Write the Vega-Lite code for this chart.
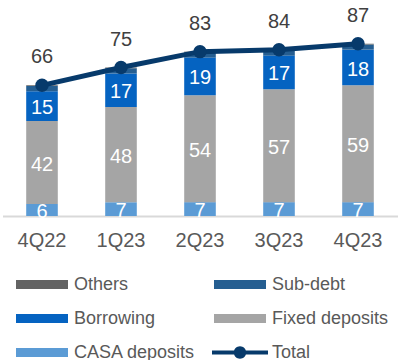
{
  "$schema": "https://vega.github.io/schema/vega-lite/v6.json",
  "width": 395,
  "height": 198,
  "autosize": {"type": "none"},
  "padding": {"left": 2.5, "top": 18, "right": 8.5, "bottom": 144},
  "config": {"view": {"stroke": null}, "font": "Liberation Sans"},
  "datasets": {
    "bars": [
      {"quarter": "4Q22", "series": "CASA deposits", "rank": 1, "value": 6},
      {"quarter": "4Q22", "series": "Fixed deposits", "rank": 2, "value": 42},
      {"quarter": "4Q22", "series": "Borrowing", "rank": 3, "value": 15},
      {"quarter": "4Q22", "series": "Sub-debt", "rank": 4, "value": 2.6},
      {"quarter": "4Q22", "series": "Others", "rank": 5, "value": 0.4},
      {"quarter": "1Q23", "series": "CASA deposits", "rank": 1, "value": 7},
      {"quarter": "1Q23", "series": "Fixed deposits", "rank": 2, "value": 48},
      {"quarter": "1Q23", "series": "Borrowing", "rank": 3, "value": 17},
      {"quarter": "1Q23", "series": "Sub-debt", "rank": 4, "value": 2.6},
      {"quarter": "1Q23", "series": "Others", "rank": 5, "value": 0.4},
      {"quarter": "2Q23", "series": "CASA deposits", "rank": 1, "value": 7},
      {"quarter": "2Q23", "series": "Fixed deposits", "rank": 2, "value": 54},
      {"quarter": "2Q23", "series": "Borrowing", "rank": 3, "value": 19},
      {"quarter": "2Q23", "series": "Sub-debt", "rank": 4, "value": 2.6},
      {"quarter": "2Q23", "series": "Others", "rank": 5, "value": 0.4},
      {"quarter": "3Q23", "series": "CASA deposits", "rank": 1, "value": 7},
      {"quarter": "3Q23", "series": "Fixed deposits", "rank": 2, "value": 57},
      {"quarter": "3Q23", "series": "Borrowing", "rank": 3, "value": 17},
      {"quarter": "3Q23", "series": "Sub-debt", "rank": 4, "value": 2.6},
      {"quarter": "3Q23", "series": "Others", "rank": 5, "value": 0.4},
      {"quarter": "4Q23", "series": "CASA deposits", "rank": 1, "value": 7},
      {"quarter": "4Q23", "series": "Fixed deposits", "rank": 2, "value": 59},
      {"quarter": "4Q23", "series": "Borrowing", "rank": 3, "value": 18},
      {"quarter": "4Q23", "series": "Sub-debt", "rank": 4, "value": 2.6},
      {"quarter": "4Q23", "series": "Others", "rank": 5, "value": 0.4}
    ],
    "totals": [
      {"quarter": "4Q22", "total": 66},
      {"quarter": "1Q23", "total": 75},
      {"quarter": "2Q23", "total": 83},
      {"quarter": "3Q23", "total": 84},
      {"quarter": "4Q23", "total": 87}
    ]
  },
  "encoding": {
    "x": {
      "field": "quarter",
      "type": "nominal",
      "sort": ["4Q22", "1Q23", "2Q23", "3Q23", "4Q23"],
      "scale": {"paddingInner": 0.6, "paddingOuter": 0.3},
      "axis": {
        "title": null,
        "labelFontSize": 20,
        "labelColor": "#595959",
        "labelAngle": 0,
        "ticks": false,
        "grid": false,
        "domainColor": "#d9d9d9",
        "domainWidth": 2,
        "labelPadding": 14
      }
    }
  },
  "layer": [
    {
      "data": {"name": "bars"},
      "transform": [
        {"stack": "value", "groupby": ["quarter"], "sort": [{"field": "rank", "order": "ascending"}], "as": ["v0", "v1"]}
      ],
      "mark": {"type": "bar"},
      "encoding": {
        "y": {"field": "v0", "type": "quantitative", "scale": {"domain": [0, 100]}, "axis": null},
        "y2": {"field": "v1"},
        "color": {
          "field": "series",
          "type": "nominal",
          "scale": {
            "domain": ["Others", "Sub-debt", "Borrowing", "Fixed deposits", "CASA deposits", "Total"],
            "range": ["#636363", "#255e91", "#0563c1", "#a5a5a5", "#5b9bd5", "#073a6b"]
          },
          "legend": {
            "title": null,
            "orient": "none",
            "legendX": 29.5,
            "legendY": 256.5,
            "columns": 2,
            "direction": "horizontal",
            "padding": 0,
            "symbolType": {"expr": "datum.value === 'Total' ? 'M-2.8,-0.2H2.8V0.2H-2.8Z M-0.62,0A0.62,0.62,0,1,1,0.62,0A0.62,0.62,0,1,1,-0.62,0Z' : 'M-2.6,-0.45H2.6V0.45H-2.6Z'"},
            "symbolSize": 400,
            "symbolStrokeWidth": 0,
            "symbolOpacity": 1,
            "labelFontSize": 18,
            "labelColor": "#595959",
            "labelOffset": 22,
            "columnPadding": 16,
            "rowPadding": 15
          }
        }
      }
    },
    {
      "data": {"name": "bars"},
      "transform": [
        {"stack": "value", "groupby": ["quarter"], "sort": [{"field": "rank", "order": "ascending"}], "as": ["v0", "v1"]},
        {"filter": {"field": "series", "oneOf": ["CASA deposits", "Fixed deposits", "Borrowing"]}},
        {"fold": ["v0", "v1"], "as": ["edge", "pos"]},
        {"aggregate": [{"op": "mean", "field": "pos", "as": "mid"}], "groupby": ["quarter", "series", "value"]}
      ],
      "mark": {"type": "text", "color": "white", "fontSize": 20, "baseline": "middle", "dy": 2},
      "encoding": {
        "y": {"field": "mid", "type": "quantitative"},
        "text": {"field": "value", "type": "quantitative"}
      }
    },
    {
      "data": {"name": "totals"},
      "mark": {"type": "line", "strokeWidth": 5, "point": {"filled": true, "size": 180}},
      "encoding": {
        "y": {"field": "total", "type": "quantitative"},
        "color": {"datum": "Total", "type": "nominal"}
      }
    },
    {
      "data": {"name": "totals"},
      "mark": {"type": "text", "fontSize": 20, "color": "#404040", "dy": -28, "baseline": "middle"},
      "encoding": {
        "y": {"field": "total", "type": "quantitative"},
        "text": {"field": "total", "type": "quantitative"}
      }
    }
  ]
}
